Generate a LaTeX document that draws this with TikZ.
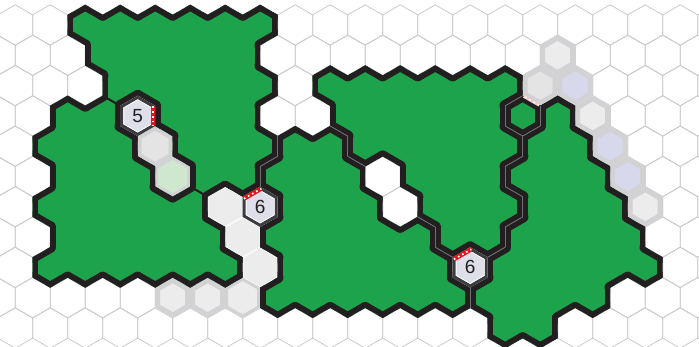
\documentclass[tikz,border=0pt]{standalone}
\usepackage{fontspec}
\newfontfamily\numfont{Liberation Sans}
\definecolor{rgreen}{HTML}{1CA34B}
\definecolor{rblack}{HTML}{231F20}
\definecolor{gridc}{HTML}{CBCBCB}
\definecolor{pfill}{HTML}{ECECEC}
\definecolor{pedge}{HTML}{D2D2D4}
\definecolor{lavf}{HTML}{D8D8EC}
\definecolor{lgreen}{HTML}{CFE6CF}
\definecolor{hatchf}{HTML}{E4E4E4}
\definecolor{numf}{HTML}{DEDFE9}
\definecolor{numring}{HTML}{3C3C40}
\definecolor{redm}{HTML}{E3141C}
\definecolor{pinkm}{HTML}{F2C4C4}
\definecolor{midc}{HTML}{707070}
\tikzset{
  gridline/.style={draw=gridc, line width=0.8pt},
  bordline/.style={draw=rblack, line width=11.4pt, line cap=round, line join=round},
  midline/.style={draw=midc, line width=0.6pt},
  thinpair/.style={draw=rblack, line width=1.8pt},
  numtext/.style={font=\numfont\fontsize{19}{19}\selectfont, text=rblack, inner sep=0pt}
}
\let\docell\relax
\newcommand\hexpathat[2]{(#1,#2-20.2) -- (#1+17.5,#2-10.1) -- (#1+17.5,#2+10.1) -- (#1,#2+20.2) -- (#1-17.5,#2+10.1) -- (#1-17.5,#2-10.1) -- cycle }
\newcommand\cellxy[2]{%
  \pgfmathsetmacro\cy{25+30.3*(#1)}%
  \ifodd#1\relax\pgfmathsetmacro\cx{32.7+35*(#2)}\else\pgfmathsetmacro\cx{50.2+35*(#2)}\fi}
\newcommand\addcell[3]{%
  \cellxy{#1}{#2}%
  \expandafter\xdef\csname hreg#1x#2\endcsname{#3}%
  \expandafter\xdef\csname hpath#3\endcsname{\csname hpath#3\endcsname\hexpathat{\cx}{\cy}}%
  \expandafter\xdef\csname hcells#3\endcsname{\csname hcells#3\endcsname\noexpand\docell{#1}{#2}}}
\newcommand\addrow[4]{\foreach \hcc in {#2,...,#3}{\addcell{#1}{\hcc}{#4}}}
\def\thinAB{AB}\def\thinBA{BA}
\newcommand\testedge[2]{%
  \ifcsname hreg#1\endcsname\edef\nbreg{\csname hreg#1\endcsname}\else\def\nbreg{Z}\fi
  \edef\pairreg{\curreg\nbreg}%
  \ifx\nbreg\curreg\else
    \ifx\pairreg\thinAB\else\ifx\pairreg\thinBA\else
      \draw[bordline] #2;%
    \fi\fi
  \fi}
\newcommand\testmid[2]{%
  \ifcsname hreg#1\endcsname
    \edef\nbreg{\csname hreg#1\endcsname}%
    \edef\pairreg{\curreg\nbreg}%
    \ifx\nbreg\curreg\else
      \ifx\pairreg\thinAB\draw[thinpair] #2;\else
        \ifx\pairreg\thinBA\draw[thinpair] #2;\else\draw[midline] #2;\fi
      \fi
    \fi
  \fi}
\newcommand\celledges[3]{%
  \cellxy{#1}{#2}%
  \pgfmathtruncatemacro\rup{#1-1}\pgfmathtruncatemacro\rdn{#1+1}%
  \pgfmathtruncatemacro\cpl{#2+1}\pgfmathtruncatemacro\cmi{#2-1}%
  \ifodd#1\relax
    \edef\nUR{\rup x#2}\edef\nLR{\rdn x#2}\edef\nLL{\rdn x\cmi}\edef\nUL{\rup x\cmi}%
  \else
    \edef\nUR{\rup x\cpl}\edef\nLR{\rdn x\cpl}\edef\nLL{\rdn x#2}\edef\nUL{\rup x#2}%
  \fi
  \edef\nR{#1x\cpl}\edef\nL{#1x\cmi}%
  #3{\nUR}{(\cx,\cy-20.2) -- (\cx+17.5,\cy-10.1)}%
  #3{\nR}{(\cx+17.5,\cy-10.1) -- (\cx+17.5,\cy+10.1)}%
  #3{\nLR}{(\cx+17.5,\cy+10.1) -- (\cx,\cy+20.2)}%
  #3{\nLL}{(\cx,\cy+20.2) -- (\cx-17.5,\cy+10.1)}%
  #3{\nL}{(\cx-17.5,\cy+10.1) -- (\cx-17.5,\cy-10.1)}%
  #3{\nUL}{(\cx-17.5,\cy-10.1) -- (\cx,\cy-20.2)}%
}
\newcommand\drawregion[1]{%
  \begin{scope}
    \edef\tmp{\noexpand\clip \csname hpath#1\endcsname;}\tmp
    \edef\tmp{\noexpand\fill[rgreen] \csname hpath#1\endcsname;}\tmp
    \def\curreg{#1}%
    \def\docell##1##2{\celledges{##1}{##2}{\testedge}}%
    \csname hcells#1\endcsname
  \end{scope}}
\newcommand\drawmid[1]{%
  \begingroup
    \def\curreg{#1}%
    \def\docell##1##2{\celledges{##1}{##2}{\testmid}}%
    \csname hcells#1\endcsname
  \endgroup}
\newcommand\specialcell[5]{%
  \cellxy{#1}{#2}%
  \begin{scope}
    \edef\tmp{\noexpand\clip \hexpathat{\cx}{\cy};}\tmp
    \edef\tmp{\noexpand\fill[#3] \hexpathat{\cx}{\cy};}\tmp
    \edef\tmp{\noexpand\draw[#4, line width=#5pt] \hexpathat{\cx}{\cy};}\tmp
  \end{scope}}
\newcommand\numcell[4]{%
  \cellxy{#1}{#2}%
  \begin{scope}
    \edef\tmp{\noexpand\clip \hexpathat{\cx}{\cy};}\tmp
    \edef\tmp{\noexpand\fill[numf] \hexpathat{\cx}{\cy};}\tmp
    \edef\tmp{\noexpand\draw[numring, line width=6pt] \hexpathat{\cx}{\cy};}\tmp
    \edef\tmp{\noexpand\draw[white, line width=0.7pt, shift={(\cx,\cy)}, scale=0.8] (0,-20.2) -- (17.5,-10.1) -- (17.5,10.1) -- (0,20.2) -- (-17.5,10.1) -- (-17.5,-10.1) -- cycle;}\tmp
    \markedge
  \end{scope}
  \node[numtext] (#4) at (\cx,\cy) {#3};}
\foreach \R in {A,B,C,D,E,F}{%
  \expandafter\gdef\csname hpath\R\endcsname{}%
  \expandafter\gdef\csname hcells\R\endcsname{}}
\begin{document}
\begin{tikzpicture}[x=1pt,y=-1pt]
% ---- regions (row, first col, last col, region)
\addrow{0}{1}{6}{A}\addrow{1}{2}{6}{A}\addrow{2}{2}{6}{A}
\addrow{3}{4}{6}{A}\addrow{4}{4}{6}{A}\addrow{5}{5}{6}{A}
\addrow{3}{1}{2}{B}\addrow{4}{0}{2}{B}\addrow{5}{1}{3}{B}
\addrow{6}{0}{4}{B}\addrow{7}{1}{5}{B}\addrow{8}{0}{5}{B}
\addrow{2}{8}{13}{C}\addrow{3}{9}{13}{C}\addrow{4}{9}{13}{C}
\addrow{5}{11}{13}{C}\addrow{6}{11}{13}{C}\addrow{7}{12}{13}{C}
\addrow{4}{7}{8}{D}\addrow{5}{7}{9}{D}\addrow{6}{7}{9}{D}
\addrow{7}{7}{11}{D}\addrow{8}{7}{11}{D}\addrow{9}{7}{12}{D}
\addrow{3}{15}{15}{E}\addrow{4}{14}{15}{E}\addrow{5}{14}{16}{E}
\addrow{6}{14}{16}{E}\addrow{7}{14}{17}{E}\addrow{8}{13}{17}{E}
\addrow{9}{13}{16}{E}\addrow{10}{13}{14}{E}
\addrow{3}{14}{14}{F}
% ---- frame
\useasboundingbox (0,0) rectangle (699,346);
\clip (0,0) rectangle (699,346);
\fill[white] (0,0) rectangle (699,346);
% ---- grid
\foreach \hr in {0,...,10}{\foreach \hc in {-1,...,20}{%
  \cellxy{\hr}{\hc}\edef\tmp{\noexpand\draw[gridline] \hexpathat{\cx}{\cy};}\tmp}}
% ---- highlighted cells
\specialcell{6}{5}{pfill}{white}{1.4}
\specialcell{7}{6}{pfill}{white}{1.4}
\specialcell{8}{6}{pfill}{white}{1.4}
\specialcell{9}{4}{pfill}{pedge}{10}
\specialcell{9}{5}{pfill}{pedge}{10}
\specialcell{9}{6}{pfill}{pedge}{6}
\specialcell{4}{3}{hatchf}{pedge}{8}
\specialcell{5}{4}{lgreen}{pedge}{6}
\specialcell{1}{15}{pfill}{pedge}{10}
\specialcell{2}{14}{hatchf}{pedge}{10}
\specialcell{2}{15}{lavf}{pedge}{10}
\specialcell{3}{16}{pfill}{pedge}{10}
\specialcell{4}{16}{lavf}{pedge}{10}
\specialcell{5}{17}{lavf}{pedge}{10}
\specialcell{6}{17}{pfill}{pedge}{10}
% ---- green regions
\drawregion{A}\drawregion{B}\drawregion{C}\drawregion{D}\drawregion{E}\drawregion{F}
\drawmid{A}\drawmid{B}\drawmid{C}\drawmid{D}\drawmid{E}\drawmid{F}
% ---- numbered cells
\def\markedge{%
  \draw[redm, line width=9pt] (\cx+17.5,\cy-10.1) -- (\cx+17.5,\cy+10.1);
  \draw[white, line width=1.7pt, dash pattern=on 1.7pt off 3pt] (\cx+15.2,\cy-9.5) -- (\cx+15.2,\cy+9.5);}
\numcell{3}{3}{5}{nfive}
\def\markedge{%
  \draw[redm, line width=9pt] (\cx-17.5,\cy-10.1) -- (\cx,\cy-20.2);
  \draw[white, line width=1.7pt, dash pattern=on 1.7pt off 3pt] (\cx-16.3,\cy-8.1) -- (\cx+1.2,\cy-18.2);}
\numcell{6}{6}{6}{nsixa}
\numcell{8}{12}{6}{nsixb}
% ---- faded mark on the single cell
\cellxy{3}{14}
\draw[pinkm, line width=3pt] (\cx+1,\cy-19.6) -- (\cx+16.5,\cy-10.7);
\draw[white, line width=1.5pt, dash pattern=on 2pt off 3pt] (\cx+2,\cy-19) -- (\cx+16,\cy-11);
\end{tikzpicture}
\end{document}
